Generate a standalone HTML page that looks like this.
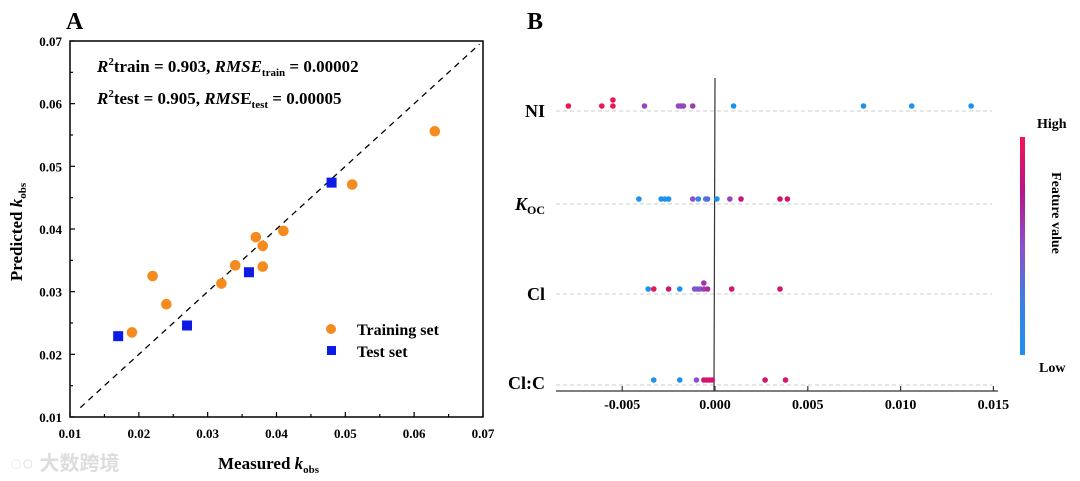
<!DOCTYPE html>
<html><head><meta charset="utf-8"><style>
html,body{margin:0;padding:0;background:#fff;}
svg{display:block;font-family:"Liberation Serif",serif;font-weight:bold;}
</style></head><body>
<svg width="1080" height="481" viewBox="0 0 1080 481">
<g id="A"></g>
<g id="B"></g>
</svg>
<script>
// Panel A data
const trainMeasured=[0.019,0.022,0.024,0.032,0.034,0.037,0.038,0.038,0.041,0.051,0.063];
const trainPredicted=[0.0235,0.0325,0.0280,0.0313,0.0342,0.0387,0.0373,0.0340,0.0397,0.0471,0.0556];
const testMeasured=[0.017,0.027,0.036,0.048];
const testPredicted=[0.0229,0.0246,0.0331,0.0474];
const aTicks=["0.01","0.02","0.03","0.04","0.05","0.06","0.07"];
// Panel B data
const features=["NI","KOC","Cl","Cl:C"];
const shapNI=[-0.0079,-0.0061,-0.0055,-0.0055,-0.0038,-0.00197,-0.00183,-0.0017,-0.0012,0.0010,0.0080,0.0106,0.0138];
const valNI=[1,1,1,1,0.55,0.55,0.55,0.55,0.6,0,0,0,0];
const shapKOC=[-0.0041,-0.0029,-0.0027,-0.0025,-0.0012,-0.0009,-0.0005,-0.0004,0.0001,0.0008,0.0014,0.0035,0.0039];
const valKOC=[0,0,0,0,0.5,0.1,0.1,0.3,0,0.55,0.8,0.85,0.85];
const shapCl=[-0.0036,-0.0033,-0.0025,-0.0019,-0.0011,-0.00095,-0.0008,-0.0006,-0.0006,-0.0004,0.0009,0.0035];
const valCl=[0,0.95,0.85,0,0.45,0.45,0.45,0.6,0.65,0.7,0.85,0.85];
const shapClC=[-0.0033,-0.0019,-0.0010,-0.0006,-0.00045,-0.0003,-0.00015,0.0027,0.0038];
const valClC=[0,0,0.5,0.85,0.85,0.85,0.85,0.85,0.85];
const bTicks=[-0.005,0,0.005,0.010,0.015];

const NS="http://www.w3.org/2000/svg";
function mk(p,t,a,txt){const e=document.createElementNS(NS,t);for(const k in a)e.setAttribute(k,a[k]);if(txt!==undefined)e.textContent=txt;p.appendChild(e);return e;}
const A=document.getElementById('A'),B=document.getElementById('B');
// ---- Panel A ----
const ax0=70,ax1=483,ay0=417,ay1=41;
const xA=v=>ax0+(v-0.01)/0.06*(ax1-ax0);
const yA=v=>ay0-(v-0.01)/0.06*(ay0-ay1);
let e;
e=mk(A,'text',{x:66,y:29,'font-size':24},'A');

e=mk(A,'rect',{x:ax0,y:ay1,width:ax1-ax0,height:ay0-ay1,fill:'none',stroke:'#000','stroke-width':1.5});

for(let i=0;i<aTicks.length;i++){
 const v=0.01+i*0.01;
 e=mk(A,'text',{x:xA(v),y:438,'font-size':13,'text-anchor':'middle'},aTicks[i]);
 
 e=mk(A,'text',{x:62,y:yA(v)+5,'font-size':13,'text-anchor':'end'},aTicks[i]);
 
}
for(let i=0;i<=12;i++){const v=0.01+i*0.005;const L=i%2?3:5;
 mk(A,'line',{x1:xA(v),x2:xA(v),y1:ay0,y2:ay0-L,stroke:'#000','stroke-width':1.2});
 mk(A,'line',{x1:ax0,x2:ax0+L,y1:yA(v),y2:yA(v),stroke:'#000','stroke-width':1.2});}
e=mk(A,'line',{x1:xA(0.0115),y1:yA(0.0115),x2:xA(0.0695),y2:yA(0.0695),stroke:'#000','stroke-width':1.3,'stroke-dasharray':'6,5'});

for(let i=0;i<trainMeasured.length;i++){
 e=mk(A,'circle',{cx:xA(trainMeasured[i]),cy:yA(trainPredicted[i]),r:5.3,fill:'#f58a1f'});
 }
for(let i=0;i<testMeasured.length;i++){
 e=mk(A,'rect',{x:xA(testMeasured[i])-5,y:yA(testPredicted[i])-5,width:10,height:10,fill:'#0d1be6'});
 }
e=mk(A,'text',{x:97,y:72,'font-size':17});
e.innerHTML='<tspan font-style="italic">R</tspan><tspan font-size="11" dy="-7">2</tspan><tspan dy="7">train = 0.903, </tspan><tspan font-style="italic">RMSE</tspan><tspan font-size="11" dy="4">train</tspan><tspan dy="-4"> = 0.00002</tspan>';

e=mk(A,'text',{x:97,y:104,'font-size':17});
e.innerHTML='<tspan font-style="italic">R</tspan><tspan font-size="11" dy="-7">2</tspan><tspan dy="7">test = 0.905, </tspan><tspan font-style="italic">RMS</tspan><tspan>E</tspan><tspan font-size="11" dy="4">test</tspan><tspan dy="-4"> = 0.00005</tspan>';

e=mk(A,'circle',{cx:331,cy:329,r:5,fill:'#f58a1f'});
e=mk(A,'text',{x:357,y:335,'font-size':16},'Training set');
e=mk(A,'rect',{x:327,y:346,width:9,height:9,fill:'#0d1be6'});
e=mk(A,'text',{x:357,y:357,'font-size':16},'Test set');
e=mk(A,'text',{x:218,y:469,'font-size':17});
e.innerHTML='Measured <tspan font-style="italic">k</tspan><tspan font-size="11" dy="4">obs</tspan>';

e=mk(A,'text',{x:0,y:0,'font-size':17,transform:'translate(22,232) rotate(-90)','text-anchor':'middle'});
e.innerHTML='Predicted <tspan font-style="italic">k</tspan><tspan font-size="11" dy="4">obs</tspan>';

e=mk(A,'text',{x:10,y:470,'font-size':20,fill:'#ddd','font-family':'"Liberation Sans","Noto Sans CJK SC",sans-serif'},'◌○ 大数跨境');

// ---- Panel B ----
const bPer=92.8/0.005;
const xB=v=>715+v*bPer;
const rowLine=[111,204,294,385];
function col(t){const stops=[[0,[30,144,238]],[0.5,[138,80,205]],[0.8,[200,20,122]],[1,[240,20,80]]];
 for(let i=1;i<stops.length;i++){if(t<=stops[i][0]){const a=stops[i-1],b=stops[i];const f=(t-a[0])/(b[0]-a[0]);
 return 'rgb('+a[1].map((c,j)=>Math.round(c+(b[1][j]-c)*f)).join(',')+')';}}return 'rgb(240,20,80)';}
e=mk(B,'text',{x:527,y:29,'font-size':24},'B');
for(let r=0;r<4;r++){
 e=mk(B,'line',{x1:556,x2:992,y1:rowLine[r],y2:rowLine[r],stroke:'#ccc','stroke-width':1,'stroke-dasharray':'4,3'});
 }
const lblY=[117,210,300,389];
for(let r=0;r<4;r++){
 e=mk(B,'text',{x:545,y:lblY[r],'font-size':18,'text-anchor':'end'});
 if(r===1)e.innerHTML='<tspan font-style="italic">K</tspan><tspan font-size="12" dy="4">OC</tspan>';else e.textContent=features[r];
 }
e=mk(B,'line',{x1:xB(0),x2:xB(0)-1,y1:78,y2:391,stroke:'#333','stroke-width':1.2});

e=mk(B,'line',{x1:556,x2:998,y1:391,y2:391,stroke:'#333','stroke-width':1.3});

for(const t of bTicks){
 mk(B,'line',{x1:xB(t),x2:xB(t),y1:391,y2:386,stroke:'#333','stroke-width':1.2});
 e=mk(B,'text',{x:xB(t),y:409,'font-size':14,'text-anchor':'middle'},t.toFixed(3));
 }
const rows=[[shapNI,valNI],[shapKOC,valKOC],[shapCl,valCl],[shapClC,valClC]];
for(let r=0;r<4;r++){const [s,v]=rows[r];const placed=[];
 for(let i=0;i<s.length;i++){const px=xB(s[i]);let n=0;for(const p of placed)if(Math.abs(p-px)<1.5)n++;placed.push(px);
  e=mk(B,'circle',{cx:px,cy:rowLine[r]-5-n*6,r:2.8,fill:col(v[i])});
  }}
const g=mk(B,'defs',{});
g.innerHTML='<linearGradient id="cb" x1="0" y1="1" x2="0" y2="0"><stop offset="0" stop-color="#1e90ee"/><stop offset="0.25" stop-color="#3c7fe0"/><stop offset="0.5" stop-color="#8a50cd"/><stop offset="0.75" stop-color="#b8148a"/><stop offset="1" stop-color="#f41454"/></linearGradient>';
e=mk(B,'rect',{x:1020,y:137,width:5,height:218,fill:'url(#cb)'});
e=mk(B,'text',{x:1037,y:128,'font-size':14},'High');
e=mk(B,'text',{x:1039,y:372,'font-size':14},'Low');
e=mk(B,'text',{x:0,y:0,'font-size':14,'text-anchor':'middle',transform:'translate(1052,213) rotate(90)'},'Feature value');

</script>
</body></html>
